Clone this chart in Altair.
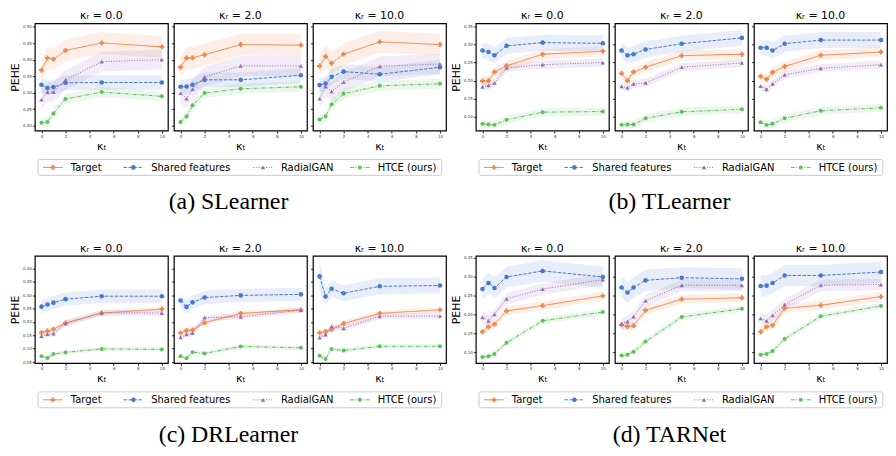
import altair as alt
import pandas as pd

# ---------------- data ----------------
X_T = [0, 0.5, 1, 2, 5, 10]
K_R = [0.0, 2.0, 10.0]
METHODS = ["Target", "Shared features", "RadialGAN", "HTCE (ours)"]
COLORS = ["#ee854a", "#4878d0", "#956cb4", "#5fbf60"]
LEARNERS = ["SLearner", "TLearner", "DRLearner", "TARNet"]
CAPTIONS = ["(a) SLearner", "(b) TLearner", "(c) DRLearner", "(d) TARNet"]

# values per kappa_R panel (0.0, 2.0, 10.0), each over X_T
SL_TARGET = [[0.368, 0.405, 0.401, 0.428, 0.451, 0.439],
             [0.377, 0.405, 0.406, 0.415, 0.446, 0.444],
             [0.381, 0.410, 0.389, 0.417, 0.454, 0.446]]
SL_SHARED = [[0.324, 0.314, 0.317, 0.330, 0.331, 0.331],
             [0.318, 0.319, 0.324, 0.339, 0.339, 0.353],
             [0.323, 0.328, 0.348, 0.364, 0.356, 0.377]]
SL_RADIAL = [[0.279, 0.302, 0.302, 0.339, 0.394, 0.400],
             [0.299, 0.282, 0.311, 0.348, 0.381, 0.381],
             [0.282, 0.319, 0.304, 0.332, 0.380, 0.387]]
SL_HTCE = [[0.209, 0.211, 0.237, 0.281, 0.302, 0.289],
           [0.211, 0.228, 0.262, 0.299, 0.312, 0.318],
           [0.219, 0.228, 0.265, 0.297, 0.321, 0.327]]

TL_TARGET = [[0.199, 0.200, 0.224, 0.241, 0.273, 0.281],
             [0.220, 0.200, 0.224, 0.237, 0.269, 0.273],
             [0.212, 0.204, 0.223, 0.239, 0.270, 0.279]]
TL_SHARED = [[0.283, 0.279, 0.270, 0.296, 0.305, 0.303],
             [0.283, 0.270, 0.273, 0.286, 0.302, 0.318],
             [0.291, 0.291, 0.283, 0.302, 0.312, 0.312]]
TL_RADIAL = [[0.183, 0.187, 0.194, 0.235, 0.244, 0.250],
             [0.184, 0.181, 0.191, 0.194, 0.237, 0.249],
             [0.185, 0.176, 0.191, 0.216, 0.234, 0.244]]
TL_HTCE = [[0.081, 0.079, 0.078, 0.092, 0.113, 0.115],
           [0.078, 0.079, 0.079, 0.096, 0.114, 0.121],
           [0.085, 0.078, 0.081, 0.096, 0.117, 0.125]]

DR_TARGET = [[0.160, 0.166, 0.173, 0.196, 0.233, 0.248],
             [0.159, 0.168, 0.170, 0.197, 0.232, 0.245],
             [0.159, 0.164, 0.171, 0.194, 0.232, 0.245]]
DR_SHARED = [[0.257, 0.265, 0.272, 0.285, 0.296, 0.296],
             [0.280, 0.256, 0.273, 0.291, 0.299, 0.303],
             [0.370, 0.295, 0.324, 0.307, 0.333, 0.336]]
DR_RADIAL = [[0.147, 0.154, 0.156, 0.194, 0.234, 0.233],
             [0.142, 0.153, 0.158, 0.216, 0.219, 0.244],
             [0.141, 0.152, 0.182, 0.176, 0.221, 0.222]]
DR_HTCE = [[0.072, 0.065, 0.080, 0.086, 0.099, 0.097],
           [0.072, 0.064, 0.087, 0.082, 0.108, 0.103],
           [0.073, 0.061, 0.099, 0.093, 0.109, 0.109]]

TN_TARGET = [[0.154, 0.167, 0.174, 0.209, 0.223, 0.249],
             [0.172, 0.168, 0.170, 0.211, 0.240, 0.244],
             [0.154, 0.167, 0.171, 0.216, 0.224, 0.247]]
TN_SHARED = [[0.267, 0.283, 0.270, 0.299, 0.315, 0.299],
             [0.271, 0.258, 0.271, 0.290, 0.297, 0.294],
             [0.275, 0.276, 0.283, 0.303, 0.303, 0.312]]
TN_RADIAL = [[0.192, 0.183, 0.200, 0.241, 0.267, 0.292],
             [0.175, 0.181, 0.194, 0.236, 0.277, 0.277],
             [0.189, 0.183, 0.197, 0.226, 0.277, 0.279]]
TN_HTCE = [[0.087, 0.089, 0.095, 0.125, 0.183, 0.206],
           [0.091, 0.093, 0.101, 0.128, 0.193, 0.215],
           [0.093, 0.095, 0.103, 0.135, 0.195, 0.222]]

# band half-widths (std) per method
SL_STD = [0.033, 0.022, 0.030, 0.015]
TL_STD = [0.014, 0.022, 0.011, 0.011]
DR_STD = [0.010, 0.025, 0.011, 0.008]
TN_STD = [0.012, 0.028, 0.015, 0.008]
DR_SHARED_K10_STD = [0.06, 0.032, 0.03, 0.03, 0.03, 0.03]

Y_DOMAINS = [[0.185, 0.51], [0.062, 0.358], [0.046, 0.447], [0.071, 0.355]]
Y_TICKS = [[0.20, 0.25, 0.30, 0.35, 0.40, 0.45, 0.50],
           [0.10, 0.15, 0.20, 0.25, 0.30, 0.35],
           [0.05, 0.10, 0.15, 0.20, 0.25, 0.30, 0.35, 0.40],
           [0.10, 0.15, 0.20, 0.25, 0.30, 0.35]]
X_TICKS = [0, 2, 4, 6, 8, 10]

SERIES = {
    "SLearner": [SL_TARGET, SL_SHARED, SL_RADIAL, SL_HTCE],
    "TLearner": [TL_TARGET, TL_SHARED, TL_RADIAL, TL_HTCE],
    "DRLearner": [DR_TARGET, DR_SHARED, DR_RADIAL, DR_HTCE],
    "TARNet": [TN_TARGET, TN_SHARED, TN_RADIAL, TN_HTCE],
}
STDS = {"SLearner": SL_STD, "TLearner": TL_STD, "DRLearner": DR_STD, "TARNet": TN_STD}

# ---------------- layout constants ----------------
PW, PH = 134, 108
GAP = 6             # between grid cells
SPACER_W = 18       # extra column between the two subfigures (holds the y axis)
ROW_STEP = 234      # panel top of row 1 -> panel top of row 2
LEG_TOP, LEG_H = 29, 16
CAP_Y = 79
GROUP_W = 3 * PW + 2 * GAP

DASHES = [[1, 0], [3.5, 1.5], [1, 1.6], [4, 1.5, 1, 1.5]]
SHAPES = ["cross", "circle", "triangle-up", "circle"]
SIZES = [24, 16, 18, 9]

color = alt.Color("method:N", scale=alt.Scale(domain=METHODS, range=COLORS), legend=None)
dash = alt.StrokeDash("method:N", scale=alt.Scale(domain=METHODS, range=DASHES), legend=None)
shape = alt.Shape("method:N", scale=alt.Scale(domain=METHODS, range=SHAPES), legend=None)
size = alt.Size("method:N", scale=alt.Scale(domain=METHODS, range=SIZES), legend=None)


def build_df(li, ki):
    learner = LEARNERS[li]
    rows = []
    for mi, m in enumerate(METHODS):
        for xi, kt in enumerate(X_T):
            v = SERIES[learner][mi][ki][xi]
            s = STDS[learner][mi]
            if learner == "DRLearner" and mi == 1 and ki == 2:
                s = DR_SHARED_K10_STD[xi]
            rows.append(dict(method=m, kt=kt, pehe=v, lo=v - s, hi=v + s))
    return pd.DataFrame(rows)


def panel(li, ki):
    df = build_df(li, ki)
    xs = alt.Scale(domain=[-0.55, 10.5], nice=False, zero=False)
    ys = alt.Scale(domain=Y_DOMAINS[li], nice=False, zero=False)
    xax = alt.Axis(values=X_TICKS, format="d", title="κₜ")
    if ki == 0:
        yax = alt.Axis(values=Y_TICKS[li], format=".2f", title="PEHE")
    else:
        yax = alt.Axis(values=Y_TICKS[li], labels=False, title=None)
    x = alt.X("kt:Q", scale=xs, axis=xax)
    band = alt.Chart(df).mark_area(opacity=0.13, clip=True).encode(
        x=x, y=alt.Y("lo:Q", scale=ys, axis=yax), y2="hi:Q", color=color)
    line = alt.Chart(df).mark_line(strokeWidth=1, clip=True).encode(
        x=x, y=alt.Y("pehe:Q", scale=ys, axis=yax), color=color, strokeDash=dash)
    pts = alt.Chart(df).mark_point(filled=True, opacity=1, clip=True).encode(
        x=x, y=alt.Y("pehe:Q", scale=ys, axis=yax), color=color, shape=shape, size=size)
    title = alt.TitleParams(text=f"κᵣ = {K_R[ki]:.1f}", fontSize=11, fontWeight="normal",
                            color="black", offset=2, anchor="middle")
    return alt.layer(band, line, pts).properties(width=PW, height=PH, title=title)


def spacer(r):
    """Empty middle column; carries the legends and captions of its row (drawn below the panels)."""
    char_w, handle, pad, colsp, border = 5.5, 20, 8, 20, 4
    widths = [len(m) * char_w for m in METHODS]
    total = sum(handle + pad + w for w in widths) + colsp * (len(METHODS) - 1)
    rows, boxes, caps = [], [], []
    group_x0 = [-(GROUP_W + GAP), SPACER_W + GAP]
    for j in range(2):
        center = group_x0[j] + GROUP_W / 2
        start = center - total / 2
        cur = start
        for m, w in zip(METHODS, widths):
            rows.append(dict(method=m, lx0=cur, lx1=cur + handle, lxm=cur + handle / 2,
                             tx=cur + handle + pad))
            cur += handle + pad + w + colsp
        boxes.append(dict(bx0=start - border - 1, bx1=start + total + border))
        caps.append(dict(cap=CAPTIONS[2 * r + j], cx=center - 12))
    ldf, bdf, cdf = pd.DataFrame(rows), pd.DataFrame(boxes), pd.DataFrame(caps)
    top = PH + LEG_TOP
    ly = top + LEG_H / 2
    box = alt.Chart(bdf).mark_rect(fill="white", stroke="#cccccc", strokeWidth=1, cornerRadius=2).encode(
        x=alt.X("bx0:Q", scale=None, axis=None), x2="bx1:Q",
        y=alt.value(top), y2=alt.value(top + LEG_H))
    rules = alt.Chart(ldf).mark_rule(strokeWidth=1).encode(
        x=alt.X("lx0:Q", scale=None, axis=None), x2="lx1:Q", y=alt.value(ly), color=color, strokeDash=dash)
    marks = alt.Chart(ldf).mark_point(filled=True, opacity=1).encode(
        x=alt.X("lxm:Q", scale=None, axis=None), y=alt.value(ly), color=color, shape=shape, size=size)
    texts = alt.Chart(ldf).mark_text(align="left", baseline="middle", fontSize=10, color="black").encode(
        x=alt.X("tx:Q", scale=None, axis=None), y=alt.value(ly + 0.5), text="method:N")
    cap = alt.Chart(cdf).mark_text(align="center", baseline="alphabetic", fontSize=24,
                                   font="Liberation Serif", color="black").encode(
        x=alt.X("cx:Q", scale=None, axis=None), y=alt.value(PH + CAP_Y), text="cap:N")
    return alt.layer(box, rules, marks, texts, cap).properties(
        width=SPACER_W, height=PH, view=alt.ViewBackground(stroke="transparent"))


cells = []
for r in range(2):
    cells += [panel(2 * r, k) for k in range(3)]
    cells.append(spacer(r))
    cells += [panel(2 * r + 1, k) for k in range(3)]

chart = alt.concat(
    *cells, columns=7, bounds="flush", align="each",
    spacing={"row": ROW_STEP - PH, "column": GAP}
).properties(
    padding={"left": 0, "top": 0, "right": 0, "bottom": 0}
).configure(font="DejaVu Sans").configure_view(
    stroke="black", strokeWidth=1.2
).configure_axis(
    grid=False, domain=False, labelFontSize=4, labelColor="#333333", tickColor="black",
    tickSize=2.5, tickWidth=0.8, labelPadding=1, titleFontSize=11, titleFontWeight="normal",
    titleColor="black"
).configure_axisX(titlePadding=2).configure_axisY(titlePadding=2).configure_title(font="DejaVu Sans")

chart.save("out.html", embed_options={"renderer": "svg", "actions": False})
